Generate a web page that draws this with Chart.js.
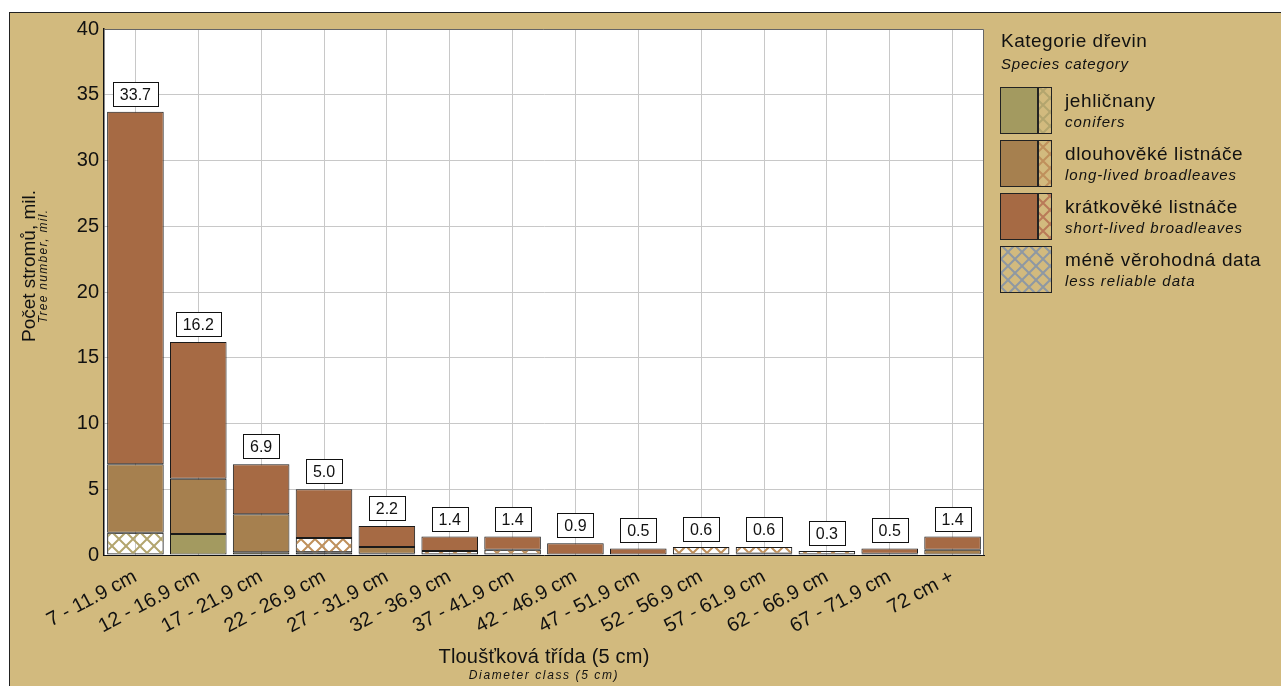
<!DOCTYPE html>
<html>
<head>
<meta charset="utf-8">
<script src="https://cdn.jsdelivr.net/npm/chart.js@4"></script>
<style>
  html, body { margin: 0; padding: 0; background: #fff; }
  #frame { position: absolute; left: 9px; top: 12px; width: 1290px; height: 700px;
           background: #D2BA7E; border: 1px solid #222; }
  #wrap { position: absolute; left: 0; top: 0; width: 1281px; height: 686px; }
</style>
</head>
<body>
<div id="frame"></div>
<div id="wrap"><canvas id="myChart" width="1281" height="686"></canvas></div>
<script>
const categories = ["7 - 11.9 cm", "12 - 16.9 cm", "17 - 21.9 cm", "22 - 26.9 cm", "27 - 31.9 cm",
	"32 - 36.9 cm", "37 - 41.9 cm", "42 - 46.9 cm", "47 - 51.9 cm", "52 - 56.9 cm",
	"57 - 61.9 cm", "62 - 66.9 cm", "67 - 71.9 cm", "72 cm +"];

// mil. trees per class, stacked bottom -> top
const conifers = [null, 1.6, 0.2, null, null, null, null, null, null, null, 0.1, null, null, null];
const conifersLR = [1.7, null, null, 0.2, 0.1, null, null, null, null, null, null, null, null, null];
const longLived = [5.2, 4.2, 2.9, null, 0.5, null, null, null, null, null, null, null, 0.1, 0.4];
const longLivedLR = [null, null, null, 1.1, null, 0.3, 0.4, null, null, 0.6, 0.5, 0.3, null, null];
const shortLived = [26.8, 10.4, 3.8, 3.7, 1.6, 1.1, 1.0, 0.9, 0.5, null, null, null, 0.4, 1.0];

const yTicks = [0, 5, 10, 15, 20, 25, 30, 35, 40];

const FONT = "'Liberation Sans', Arial, sans-serif";
const CLR = { conifers: "#A39A60", long: "#A6804F", short: "#A66A44" };

const hatch = (color, bg) => {
	const c = document.createElement("canvas");
	c.width = c.height = 14;
	const g = c.getContext("2d");
	if (bg) { g.fillStyle = bg; g.fillRect(0, 0, 14, 14); }
	g.strokeStyle = color;
	g.lineWidth = 2;
	g.beginPath();
	g.moveTo(-1, -1); g.lineTo(15, 15);
	g.moveTo(-1, 15); g.lineTo(15, -1);
	g.stroke();
	return g.createPattern(c, "repeat");
};

const HATCH = {
	conifers: hatch("#B3A56E"),
	long: hatch("#BF905C"),
	short: hatch("#B97A58"),
	generic: hatch("#8E98A3"),
};

const totals = categories.map((_, i) =>
	[conifers, conifersLR, longLived, longLivedLR, shortLived].reduce((s, a) => s + (a[i] || 0), 0));

const ds = (data, fill) => ({
	data: data,
	backgroundColor: fill,
	borderColor: "#1a1a1a",
	borderWidth: 1,
	borderSkipped: false,
	barPercentage: 0.9,
	categoryPercentage: 1.0,
});

// text helper: font + letter spacing
const put = (ctx, txt, x, y, font, spacing) => {
	ctx.font = font;
	ctx.letterSpacing = (spacing || 0) + "px";
	ctx.fillText(txt, x, y);
	ctx.letterSpacing = "0px";
};

const plotBg = {
	id: "plotBg",
	beforeDraw(chart) {
		const { ctx, chartArea: a } = chart;
		ctx.save();
		ctx.fillStyle = "#fff";
		ctx.fillRect(a.left, a.top, a.width, a.height);
		ctx.restore();
	},
	afterDatasetsDraw(chart) {
		const { ctx, chartArea: a, scales } = chart;
		ctx.save();
		ctx.strokeStyle = "#666";
		ctx.lineWidth = 1;
		ctx.beginPath();
		ctx.moveTo(a.left, a.top + 0.5);
		ctx.lineTo(a.right - 0.5, a.top + 0.5);
		ctx.lineTo(a.right - 0.5, a.bottom);
		ctx.stroke();
		// value boxes above the stacks
		ctx.font = "16px " + FONT;
		ctx.textAlign = "center";
		ctx.textBaseline = "middle";
		totals.forEach((t, i) => {
			const txt = t.toFixed(1);
			const x = scales.x.getPixelForValue(i);
			const y = scales.y.getPixelForValue(t);
			const w = Math.round(ctx.measureText(txt).width + 14);
			const h = 24;
			const bx = Math.round(x - w / 2) + 0.5, by = Math.round(y - 6 - h) + 0.5;
			ctx.fillStyle = "#fff";
			ctx.fillRect(bx, by, w, h);
			ctx.strokeStyle = "#111";
			ctx.strokeRect(bx, by, w, h);
			ctx.fillStyle = "#111";
			ctx.fillText(txt, x, by + h / 2 + 1);
		});
		ctx.restore();
	},
};

const texts = {
	id: "texts",
	afterDraw(chart) {
		const { ctx, chartArea: a } = chart;
		ctx.save();
		ctx.fillStyle = "#111";
		ctx.textAlign = "center";
		ctx.textBaseline = "alphabetic";
		const cx = (a.left + a.right) / 2;
		put(ctx, "Tloušťková třída (5 cm)", cx, 663, "20px " + FONT, 0.2);
		put(ctx, "Diameter class (5 cm)", cx, 679, "italic 12px " + FONT, 1.6);

		ctx.translate(0, 266);
		ctx.rotate(-Math.PI / 2);
		put(ctx, "Počet stromů, mil.", 0, 35, "19px " + FONT, 0);
		put(ctx, "Tree number, mil.", 0, 47, "italic 12px " + FONT, 1.3);
		ctx.restore();

		// legend
		ctx.save();
		ctx.fillStyle = "#111";
		ctx.textAlign = "left";
		put(ctx, "Kategorie dřevin", 1001, 47, "19px " + FONT, 0.5);
		put(ctx, "Species category", 1001, 69, "italic 15px " + FONT, 0.8);
		const items = [
			["jehličnany", "conifers", CLR.conifers, HATCH.conifers],
			["dlouhověké listnáče", "long-lived broadleaves", CLR.long, HATCH.long],
			["krátkověké listnáče", "short-lived broadleaves", CLR.short, HATCH.short],
			["méně věrohodná data", "less reliable data", null, HATCH.generic],
		];
		items.forEach(([main, sub, solid, pat], k) => {
			const top = 87 + 53 * k;
			ctx.strokeStyle = "#222";
			ctx.lineWidth = 1;
			if (solid) {
				ctx.fillStyle = solid;
				ctx.fillRect(1000.5, top + 0.5, 37, 46);
				ctx.strokeRect(1000.5, top + 0.5, 37, 46);
				ctx.fillStyle = pat;
				ctx.fillRect(1038.5, top + 0.5, 13, 46);
				ctx.strokeRect(1038.5, top + 0.5, 13, 46);
			} else {
				ctx.fillStyle = pat;
				ctx.fillRect(1000.5, top + 0.5, 51, 46);
				ctx.strokeRect(1000.5, top + 0.5, 51, 46);
			}
			ctx.fillStyle = "#111";
			put(ctx, main, 1065, top + 20, "19px " + FONT, 0.6);
			put(ctx, sub, 1065, top + 40, "italic 15px " + FONT, 1);
		});
		ctx.restore();
	},
};

const ctx = document.getElementById("myChart").getContext("2d");
new Chart(ctx, {
	type: "bar",
	data: {
		labels: categories,
		datasets: [
			ds(conifers, CLR.conifers),
			ds(conifersLR, HATCH.conifers),
			ds(longLived, CLR.long),
			ds(longLivedLR, HATCH.long),
			ds(shortLived, CLR.short),
		],
	},
	options: {
		responsive: false,
		animation: false,
		layout: { padding: { left: 0, top: 29, right: 297, bottom: 0 } },
		plugins: { legend: { display: false }, tooltip: { enabled: false } },
		scales: {
			x: {
				stacked: true,
				grid: { offset: false, color: "#C8C8C8", drawTicks: false },
				border: { color: "#111", width: 1 },
				ticks: {
					minRotation: 28, maxRotation: 28, padding: 10,
					color: "#111", font: { family: FONT, size: 20 },
				},
				afterFit: (s) => { s.height = 131; },
			},
			y: {
				stacked: true,
				min: 0, max: 40,
				afterBuildTicks: (s) => { s.ticks = yTicks.map((v) => ({ value: v })); },
				grid: { color: "#C8C8C8", drawTicks: false },
				border: { color: "#111", width: 1.5 },
				ticks: { padding: 5, color: "#111", font: { family: FONT, size: 20 } },
				afterFit: (s) => { s.width = 104; },
			},
		},
	},
	plugins: [plotBg, texts],
});
</script>
</body>
</html>
